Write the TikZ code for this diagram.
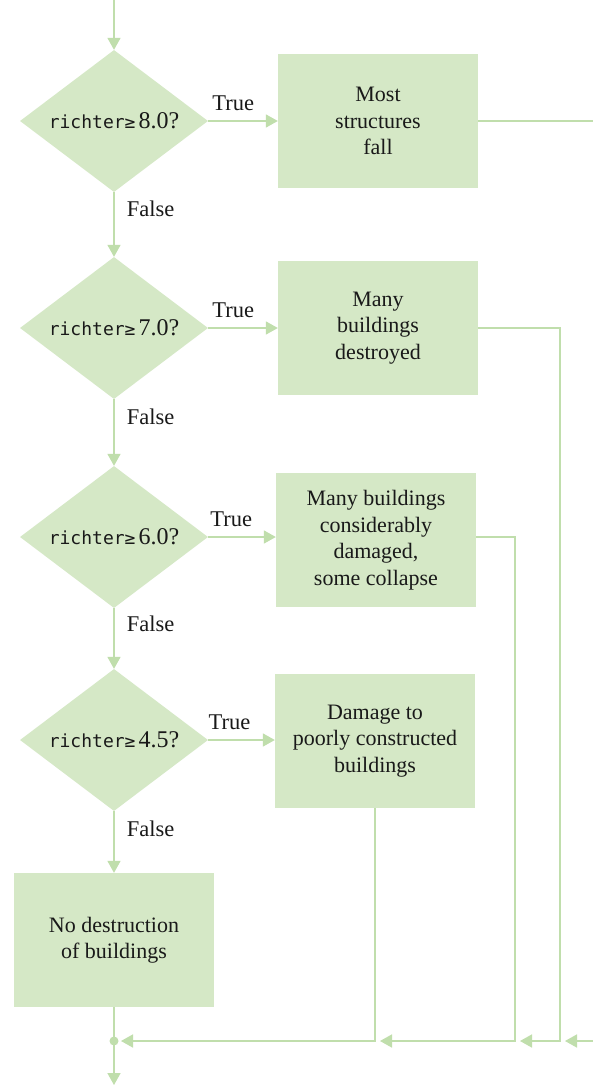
\documentclass[tikz,border=0pt]{standalone}
\usepackage{fontspec}
\setmainfont{Liberation Serif}
\setmonofont{DejaVu Sans Mono}
\usetikzlibrary{shapes.geometric,arrows.meta,calc}
\definecolor{boxfill}{RGB}{213,232,198}
\definecolor{linecol}{RGB}{192,222,172}
\definecolor{ink}{RGB}{25,25,25}
\newcommand{\cnd}[1]{{\ttfamily\fontsize{18}{20}\selectfont richter≥}\hspace{3pt}#1?}
\begin{document}
\begin{tikzpicture}[x=1pt,y=-1pt,
  cond/.style={diamond, aspect=1.32, fill=boxfill, minimum width=188pt, minimum height=142pt, inner sep=0pt, text=ink, font=\fontsize{24}{26}\selectfont},
  act/.style={rectangle, fill=boxfill, minimum width=200pt, minimum height=134pt, align=center, inner sep=0pt, text=ink, font=\fontsize{22}{26.5}\selectfont},
  flow/.style={draw=linecol, line width=1.6pt},
  arr/.style={flow, -{Triangle[length=12pt,width=13pt]}},
  lbl/.style={font=\fontsize{22.5}{26}\selectfont, inner sep=2pt, text=ink}
]
\path[use as bounding box] (0,0) rectangle (593,1086);
\clip (0,0) rectangle (593,1086);
\fill[white] (0,0) rectangle (593,1086);

\node[cond] (d1) at (114,121) {\cnd{8.0}};
\node[act]  (b1) at (378,121) {Most\\structures\\fall};
\node[cond] (d2) at (114,328) {\cnd{7.0}};
\node[act]  (b2) at (378,328) {Many\\buildings\\destroyed};
\node[cond] (d3) at (114,537) {\cnd{6.0}};
\node[act]  (b3) at (376,540) {Many buildings\\considerably\\damaged,\\some collapse};
\node[cond] (d4) at (114,740) {\cnd{4.5}};
\node[act]  (b4) at (375,741) {Damage to\\poorly constructed\\buildings};
\node[act]  (b5) at (114,940) {No destruction\\of buildings};

\coordinate (top) at (114,-5);
\coordinate (r1) at (610,121);
\coordinate (r2) at (610,1041);
\coordinate (j1) at (560,1041);
\coordinate (j2) at (515,1041);
\coordinate (j3) at (375,1041);
\coordinate (m) at (114,1041);
\coordinate (bot) at (114,1085);

\draw[arr] (top) -- (d1.north);
\draw[arr] (d1.east) -- node[lbl, above=7pt, pos=0.36]{True} (d1.east -| b1.west);
\draw[arr] (d1.south) -- node[lbl, right=10pt, pos=0.26]{False} (d2.north);
\draw[arr] (d2.east) -- node[lbl, above=7pt, pos=0.36]{True} (d2.east -| b2.west);
\draw[arr] (d2.south) -- node[lbl, right=10pt, pos=0.26]{False} (d3.north);
\draw[arr] (d3.east) -- node[lbl, above=7pt, pos=0.34]{True} (d3.east -| b3.west);
\draw[arr] (d3.south) -- node[lbl, right=10pt, pos=0.26]{False} (d4.north);
\draw[arr] (d4.east) -- node[lbl, above=7pt, pos=0.32]{True} (d4.east -| b4.west);
\draw[arr] (d4.south) -- node[lbl, right=10pt, pos=0.28]{False} (b5.north);

\draw[flow] (b5.south) -- (m);
\fill[linecol] (m) circle (4.5pt);
\draw[arr] (m) -- (bot);

\draw[flow] (b1.east) -- (r1);
\draw[arr, shorten >=5pt] (r2) -- (j1);
\draw[arr, shorten >=5pt] (b2.east) -| (j1) -- (j2);
\draw[arr, shorten >=5pt] (b3.east |- d3.east) -| (j2) -- (j3);
\draw[arr, shorten >=7pt] (b4.south) -- (j3) -- (m);
\end{tikzpicture}
\end{document}
